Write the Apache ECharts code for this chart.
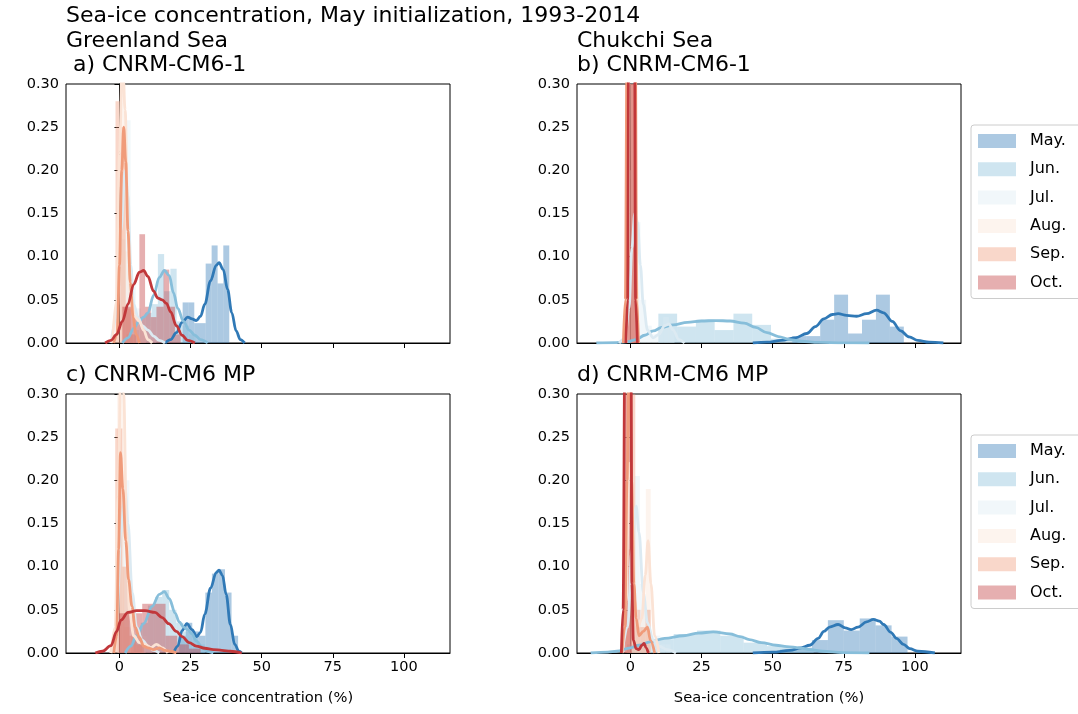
<!DOCTYPE html>
<html><head><meta charset="utf-8">
<script src="https://cdn.jsdelivr.net/npm/echarts@6/dist/echarts.min.js"></script>
<style>html,body{margin:0;padding:0;background:#fff}#c{width:1078px;height:714px}</style>
</head><body><div id="c"></div>
<script>
// ---------- labels ----------
const months = ['May.', 'Jun.', 'Jul.', 'Aug.', 'Sep.', 'Oct.'];
const xTickValues = [0, 25, 50, 75, 100];
const mainTitle = 'Sea-ice concentration, May initialization, 1993-2014';
const regionTitles = ['Greenland Sea', 'Chukchi Sea'];
const panelTitles = [' a) CNRM-CM6-1', 'b) CNRM-CM6-1', 'c) CNRM-CM6 MP', 'd) CNRM-CM6 MP'];
const xAxisTitle = 'Sea-ice concentration (%)';

// ---------- histograms: [binStart, binEnd, density] ; KDE: [x, density] ----------
// a) Greenland Sea, CNRM-CM6-1
const A_May_hist = [[22.2,24.3,0.047],[24.3,26.3,0.047],[26.3,28.3,0.023],[28.3,30.3,0.023],[30.3,32.4,0.092],[32.4,34.5,0.113],[34.5,36.5,0.069],[36.5,38.6,0.113]];
const A_May_kde = [[16,0],[18,0.004],[20,0.012],[22,0.024],[24,0.030],[25.5,0.028],[27,0.026],[28.5,0.031],[30,0.045],[32,0.072],[34,0.09],[35,0.093],[36.5,0.085],[38,0.062],[39.5,0.035],[41,0.014],[42.5,0.004],[44,0]];
const A_Jun_hist = [[2.5,4.7,0.01],[4.7,6.9,0.015],[6.9,9.1,0.03],[9.1,11.3,0.035],[11.3,13.5,0.045],[13.5,15.7,0.103],[15.7,17.9,0.06],[17.9,20.1,0.086],[20.1,22.3,0.025],[22.3,24.5,0.02],[24.5,26.7,0.01]];
const A_Jun_kde = [[1,0],[3,0.006],[5,0.017],[7,0.026],[8.5,0.030],[10,0.035],[12,0.055],[14,0.076],[15.8,0.084],[17.5,0.078],[19,0.058],[20.5,0.04],[22.5,0.025],[24.5,0.015],[26.5,0.009],[28.5,0.004],[31,0]];
const A_Jul_hist = [[0,2.1,0.12],[2.1,3.9,0.258],[3.9,5.7,0.07],[5.7,7.5,0.04],[7.5,9.3,0.03],[9.3,11.1,0.02],[11.1,12.9,0.01]];
const A_Jul_kde = [[-3,0],[-1,0.03],[0.5,0.13],[2,0.2],[3,0.17],[4,0.09],[5,0.045],[6.5,0.03],[8,0.02],[10,0.015],[12,0.008],[14,0.003],[16,0]];
const A_Aug_hist = [[0.35,2.1,0.42],[2.1,3.9,0.106],[3.9,5.7,0.03],[5.7,7.5,0.02],[7.5,9.3,0.015]];
const A_Aug_kde = [[-2.5,0],[-1,0.05],[0,0.22],[1,0.33],[2,0.27],[3,0.13],[4,0.05],[5.5,0.03],[7,0.025],[8.5,0.015],[10,0.004],[11.5,0]];
const A_Sep_hist = [[-1.4,0.4,0.28],[0.4,2.2,0.25],[2.2,4.0,0.04],[4.0,5.8,0.01]];
const A_Sep_kde = [[-2,0],[-0.8,0.01],[0,0.09],[0.8,0.2],[1.5,0.25],[2.2,0.21],[3,0.13],[3.8,0.07],[4.8,0.03],[5.8,0.01],[7,0]];
const A_Oct_hist = [[1,3,0.042],[3,5,0.042],[5,7,0.03],[7,9,0.126],[9,11,0.042],[11,13,0.03],[13,15.5,0.042],[15.5,17.5,0.085],[17.5,19.5,0.042],[19.5,21.5,0.01]];
const A_Oct_kde = [[-5,0],[-3,0.003],[-1,0.01],[1,0.025],[3,0.045],[5,0.068],[7,0.082],[8.5,0.084],[10,0.077],[12,0.06],[13.5,0.052],[15,0.05],[16.5,0.046],[18,0.036],[20,0.02],[22,0.009],[24,0.003],[26.5,0]];

// b) Chukchi Sea, CNRM-CM6-1
const B_May_hist = [[56.9,61.8,0.008],[61.8,66.7,0.008],[66.7,71.6,0.027],[71.6,76.5,0.056],[76.5,81.4,0.011],[81.4,86.3,0.027],[86.3,91.2,0.056],[91.2,96.1,0.019]];
const B_May_kde = [[43,0],[48,0.001],[53,0.003],[58,0.006],[62,0.011],[65,0.019],[68,0.028],[71,0.033],[73,0.034],[76,0.032],[79.5,0.031],[83,0.034],[86.5,0.038],[89,0.035],[92,0.025],[95,0.014],[98,0.007],[101,0.003],[105,0.001],[110,0]];
const B_Jun_hist = [[9.8,16.4,0.034],[16.4,23,0.019],[23,29.6,0.027],[29.6,36.2,0.015],[36.2,42.8,0.034],[42.8,49.4,0.021],[49.4,56,0.005],[56,62.6,0.003]];
const B_Jun_kde = [[-12,0],[-5,0.0005],[-1,0.0015],[2,0.004],[5,0.009],[8,0.014],[11,0.018],[15,0.021],[20,0.024],[25,0.0255],[30,0.026],[35,0.0255],[40,0.023],[44,0.018],[48,0.012],[52,0.0075],[56,0.004],[60,0.002],[66,0.0007],[75,0.0002],[84,0]];
const B_Jul_hist = [[-0.5,1.5,0.2],[1.5,3.5,0.14],[3.5,5.5,0.05],[5.5,7.5,0.02],[7.5,9.5,0.01],[9.5,11.5,0.02],[11.5,13.5,0.03],[13.5,15.5,0.02]];
const B_Jul_kde = [[-4,0],[-2,0.005],[-0.5,0.04],[0.5,0.11],[1.5,0.15],[2.5,0.14],[3.5,0.09],[4.5,0.045],[6,0.015],[8,0.006],[10,0.01],[12,0.02],[13.5,0.022],[15,0.015],[17,0.004],[19,0]];
const B_Aug_hist = [[-0.2,1.4,0.6]];
const B_Aug_kde = [[-1.5,0],[-0.8,0.1],[-0.3,0.5],[0.6,1.2],[1.5,0.5],[2,0.1],[2.7,0]];
const B_Sep_hist = [[-1.9,-0.7,0.115],[-0.7,0.5,0.3],[0.5,1.9,0.38]];
const B_Sep_kde = [[-2.5,0],[-1.8,0.05],[-1.2,0.35],[0.3,0.9],[1.7,0.35],[2.2,0.05],[2.8,0]];
const B_Oct_hist = [[-0.9,1.9,0.36]];
const B_Oct_kde = [[-1.6,0],[-1,0.05],[-0.6,0.4],[0.45,1.6],[1.4,0.4],[1.8,0.05],[2.4,0]];

// c) Greenland Sea, CNRM-CM6 MP
const C_May_hist = [[21,23.3,0.02],[23.3,25.6,0.035],[25.6,27.9,0.025],[27.9,30.2,0.02],[30.2,32.5,0.07],[32.5,34.8,0.092],[34.8,37.1,0.097],[37.1,39.4,0.07],[39.4,41.7,0.02]];
const C_May_kde = [[19,0],[20.5,0.008],[22,0.026],[23.7,0.034],[25.5,0.027],[27.2,0.019],[28.5,0.024],[30,0.045],[32,0.075],[34,0.093],[35,0.096],[36.2,0.09],[37.5,0.068],[39,0.033],[40.5,0.01],[42,0.002],[43,0]];
const C_Jun_hist = [[5,7.5,0.02],[7.5,10,0.035],[10,12.5,0.055],[12.5,15,0.065],[15,17.5,0.073],[17.5,20,0.05],[20,22.5,0.035],[22.5,25,0.025],[25,27.5,0.02],[27.5,30,0.01]];
const C_Jun_kde = [[2,0],[4,0.008],[6,0.02],[8.5,0.034],[11.5,0.054],[14,0.068],[15.8,0.071],[17.5,0.063],[19.6,0.046],[21,0.036],[22.6,0.03],[24,0.027],[25.5,0.022],[27,0.014],[29,0.007],[31,0.002],[33,0]];
const C_Jul_hist = [[-0.5,1.5,0.17],[1.5,3.5,0.2],[3.5,5.5,0.06],[5.5,7.5,0.03],[7.5,9.5,0.02],[9.5,11.5,0.01]];
const C_Jul_kde = [[-3,0],[-1,0.03],[0.5,0.14],[2,0.19],[3,0.15],[4.5,0.07],[6,0.03],[8,0.015],[10,0.008],[12,0.003],[14,0]];
const C_Aug_hist = [[-0.8,1.7,0.35],[1.7,4.2,0.03],[4.2,6.7,0.01],[6.7,9.2,0.008]];
const C_Aug_kde = [[-3,0],[-1.5,0.03],[-0.5,0.18],[0.5,0.34],[1.5,0.3],[2.5,0.14],[3.5,0.05],[5,0.02],[7,0.012],[9,0.01],[11,0.006],[13,0.01],[15,0.006],[17,0]];
const C_Sep_hist = [[-1.5,1,0.26],[1,3.5,0.1],[3.5,6,0.02],[6,8.5,0.01]];
const C_Sep_kde = [[-2,0],[-1,0.02],[-0.3,0.12],[0.35,0.232],[1.2,0.19],[2.2,0.13],[3.2,0.085],[4.4,0.054],[5.5,0.03],[7,0.018],[8.5,0.008],[10,0.006],[12,0.004],[14,0.006],[16,0.003],[18,0.002],[20,0]];
const C_Oct_hist = [[-0.2,3.9,0.046],[3.9,8,0.046],[8,12.1,0.057],[12.1,16.2,0.057],[16.2,20.3,0.02],[20.3,24.4,0.01],[24.4,28.5,0.005]];
const C_Oct_kde = [[-8.5,0],[-6,0.002],[-3,0.0085],[-1,0.025],[0.5,0.038],[3,0.047],[6,0.049],[9,0.049],[12.5,0.047],[15,0.041],[17.3,0.034],[20,0.025],[22,0.019],[24.5,0.012],[27,0.008],[30,0.0055],[33,0.004],[36,0.003],[39,0.002],[43,0]];

// d) Chukchi Sea, CNRM-CM6 MP
const D_May_hist = [[52.6,58.2,0.004],[58.2,63.8,0.006],[63.8,69.4,0.015],[69.4,75,0.038],[75,80.6,0.026],[80.6,86.2,0.04],[86.2,91.8,0.032],[91.8,97.4,0.019]];
const D_May_kde = [[43,0],[50,0.001],[56,0.003],[60,0.006],[63,0.009],[66,0.017],[68,0.025],[70,0.03],[73,0.033],[75.5,0.029],[77.6,0.027],[80,0.03],[83,0.036],[85.4,0.039],[87.5,0.037],[89,0.033],[91.5,0.024],[93.5,0.017],[96,0.01],[98.2,0.005],[101,0.002],[107,0]];
const D_Jun_hist = [[-1.2,7,0.01],[7,15.2,0.016],[15.2,23.4,0.022],[23.4,31.6,0.026],[31.6,39.8,0.02],[39.8,48,0.012],[48,56.2,0.008],[56.2,64.4,0.006]];
const D_Jun_kde = [[-14,0],[-8,0.001],[-4.8,0.002],[0,0.006],[3,0.009],[6.9,0.013],[12,0.017],[18.6,0.02],[24,0.023],[29.1,0.0245],[35,0.022],[38.5,0.019],[41.8,0.0155],[46,0.012],[51.2,0.009],[55,0.0075],[59.4,0.006],[63,0.004],[67.5,0.002],[74.5,0.0005],[84,0]];
const D_Jul_hist = [[-0.3,1.5,0.15],[1.5,3.3,0.205],[3.3,5.1,0.08],[5.1,6.9,0.05],[6.9,8.7,0.02],[8.7,10.5,0.02],[10.5,12.3,0.01],[12.3,14.1,0.01]];
const D_Jul_kde = [[-3,0],[-1,0.03],[0.5,0.12],[2,0.17],[3,0.14],[4.5,0.07],[6,0.035],[8,0.015],[10,0.008],[13,0.004],[16,0]];
const D_Aug_hist = [[-1.4,0.3,0.27],[0.3,2,0.04],[2,3.7,0.03],[3.7,5.4,0.05],[5.4,7.1,0.19]];
const D_Aug_kde = [[-3,0],[-1.5,0.06],[-0.5,0.22],[0.5,0.2],[1.5,0.06],[2.5,0.03],[4,0.04],[5.2,0.09],[6.2,0.13],[7.2,0.08],[8.5,0.02],[10,0]];
const D_Sep_hist = [[-1.9,-0.1,0.12],[-0.1,1.7,0.3],[1.7,3.5,0.05],[3.5,5.3,0.03],[5.3,7.1,0.05]];
const D_Sep_kde = [[-3,0],[-2,0.03],[-1.2,0.2],[-0.4,0.45],[0.4,0.2],[1.2,0.08],[2,0.04],[3,0.02],[4.5,0.025],[6,0.03],[7,0.015],[8.5,0]];
const D_Oct_hist = [[-2.2,0.5,0.37]];
const D_Oct_kde = [[-3.2,0],[-2.6,0.05],[-1.9,0.4],[-0.85,1.3],[0.15,0.4],[0.5,0.08],[1,0.015],[2,0.005],[3,0.004],[4,0.009],[4.8,0.011],[5.5,0.006],[6.3,0]];

// ---------- assemble ----------
const panelHists = [
  [A_May_hist, A_Jun_hist, A_Jul_hist, A_Aug_hist, A_Sep_hist, A_Oct_hist],
  [B_May_hist, B_Jun_hist, B_Jul_hist, B_Aug_hist, B_Sep_hist, B_Oct_hist],
  [C_May_hist, C_Jun_hist, C_Jul_hist, C_Aug_hist, C_Sep_hist, C_Oct_hist],
  [D_May_hist, D_Jun_hist, D_Jul_hist, D_Aug_hist, D_Sep_hist, D_Oct_hist]
];
const panelKdes = [
  [A_May_kde, A_Jun_kde, A_Jul_kde, A_Aug_kde, A_Sep_kde, A_Oct_kde],
  [B_May_kde, B_Jun_kde, B_Jul_kde, B_Aug_kde, B_Sep_kde, B_Oct_kde],
  [C_May_kde, C_Jun_kde, C_Jul_kde, C_Aug_kde, C_Sep_kde, C_Oct_kde],
  [D_May_kde, D_Jun_kde, D_Jul_kde, D_Aug_kde, D_Sep_kde, D_Oct_kde]
];

const rgb = [[48,121,182],[135,190,218],[220,234,242],[251,227,213],[240,155,122],[193,55,58]];
const lineColor = rgb.map(c => `rgb(${c[0]},${c[1]},${c[2]})`);
const fillColor = rgb.map(c => `rgba(${c[0]},${c[1]},${c[2]},0.4)`);

const FONT = 'DejaVu Sans';
const gridPos = [
  {left: 66, top: 84}, {left: 577, top: 84},
  {left: 66, top: 394}, {left: 577, top: 394}
];

const grids = gridPos.map(p => ({left: p.left, top: p.top, width: 384, height: 259,
  show: true, borderColor: '#000', borderWidth: 1, backgroundColor: 'transparent'}));

const xAxes = gridPos.map((p, i) => ({
  type: 'value', gridIndex: i, min: -18.8, max: 116.2,
  axisLine: {show: true, onZero: false, lineStyle: {color: '#000', width: 1}},
  axisTick: {show: true, inside: false, length: 5, lineStyle: {color: '#000'}, customValues: xTickValues},
  axisLabel: {show: i >= 2, customValues: xTickValues, color: '#000', fontSize: 14.5, fontFamily: FONT, margin: 7},
  splitLine: {show: false},
  name: i >= 2 ? xAxisTitle : '', nameLocation: 'middle', nameGap: 38,
  nameTextStyle: {color: '#000', fontSize: 14.7, fontFamily: FONT}
}));

const yAxes = gridPos.map((p, i) => ({
  type: 'value', gridIndex: i, min: 0, max: 0.3, interval: 0.05,
  axisLine: {show: true, lineStyle: {color: '#000', width: 1}},
  axisTick: {show: true, inside: false, length: 5, lineStyle: {color: '#000'}},
  axisLabel: {show: true, color: '#000', fontSize: 14.5, fontFamily: FONT, margin: 7,
    formatter: v => v.toFixed(2)},
  splitLine: {show: false}
}));

const series = [];
for (let g = 0; g < 4; g++) {
  for (let m = 0; m < 6; m++) {
    const fill = fillColor[m];
    series.push({
      type: 'custom', name: months[m], xAxisIndex: g, yAxisIndex: g, clip: true, silent: true,
      itemStyle: {color: fill},
      encode: {x: [0, 1], y: 2},
      data: panelHists[g][m],
      renderItem: (params, api) => {
        const p0 = api.coord([api.value(0), 0]);
        const p1 = api.coord([api.value(1), api.value(2)]);
        return {type: 'rect',
          shape: {x: p0[0], y: p1[1], width: p1[0] - p0[0], height: p0[1] - p1[1]},
          style: {fill: fill}};
      }
    });
    series.push({
      type: 'line', name: months[m] + ' kde', xAxisIndex: g, yAxisIndex: g,
      data: panelKdes[g][m], showSymbol: false, symbol: 'none', clip: true, silent: true,
      smooth: 0.35, smoothMonotone: 'x',
      lineStyle: {color: lineColor[m], width: 2.8}
    });
  }
}

const legendCommon = {
  orient: 'vertical', left: 971, selectedMode: false,
  data: months.map((m, i) => ({name: m, itemStyle: {color: fillColor[i]}})),
  icon: 'rect', itemWidth: 38, itemHeight: 14, itemGap: 11.3,
  textStyle: {fontSize: 16, lineHeight: 17, fontFamily: FONT, color: '#000', padding: [0, 0, 0, 9]},
  borderColor: '#cccccc', borderWidth: 1, borderRadius: 3,
  padding: [7.5, 60, 7.5, 7], backgroundColor: '#fff'
};

const textEl = (t, l, tp) => ({type: 'text', left: l, top: tp,
  style: {text: t, font: `22px "${FONT}"`, fill: '#000'}});

const option = {
  animation: false,
  backgroundColor: '#fff',
  grid: grids, xAxis: xAxes, yAxis: yAxes, series: series,
  legend: [Object.assign({top: 125}, legendCommon), Object.assign({top: 435}, legendCommon)],
  graphic: [
    textEl(mainTitle, 66, 5),
    textEl(regionTitles[0], 66, 30),
    textEl(panelTitles[0], 66, 54),
    textEl(regionTitles[1], 577, 30),
    textEl(panelTitles[1], 577, 54),
    textEl(panelTitles[2], 66, 364),
    textEl(panelTitles[3], 577, 364)
  ]
};

const chart = echarts.init(document.getElementById('c'), null, {renderer: 'canvas'});
chart.setOption(option);
</script>
</body></html>
